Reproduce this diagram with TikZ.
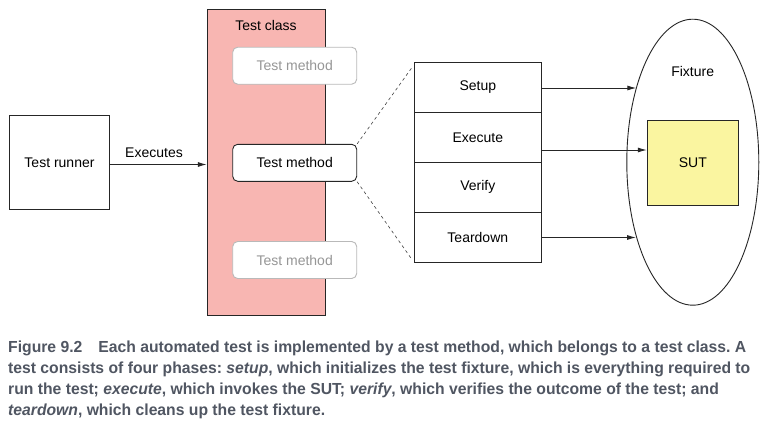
\documentclass[tikz,border=0pt]{standalone}
\usepackage{fontspec}
\setmainfont{Liberation Sans}
\newfontfamily\capfont[FakeStretch=0.982]{Liberation Sans}
\usetikzlibrary{arrows.meta,shapes.geometric,calc}
\definecolor{classpink}{RGB}{248,182,178}
\definecolor{sutyellow}{RGB}{250,245,160}
\definecolor{ghost}{RGB}{185,185,185}
\definecolor{ghosttext}{RGB}{150,150,150}
\definecolor{captext}{RGB}{80,86,98}
\frenchspacing
\tikzset{
  x=1pt, y=-1pt,
  every node/.style={font=\fontsize{14}{16}\selectfont},
  conn/.style={line width=0.9pt, draw=black!85, -{Latex[length=9pt,width=5pt]}},
  phase/.style={draw=black!85, line width=0.9pt, rectangle, minimum width=127pt, minimum height=50pt, inner sep=0pt},
  method/.style={draw=black!85, line width=0.9pt, rounded corners=5pt, minimum width=124pt, minimum height=37pt, inner sep=0pt, fill=white},
  ghostmethod/.style={method, draw=ghost, text=ghosttext},
  zoomline/.style={dashed, line width=0.6pt, draw=black!75},
  capline/.style={anchor=base west, inner sep=0pt, font=\capfont\bfseries\fontsize{16}{18}\selectfont, text=captext},
}
\begin{document}
\begin{tikzpicture}
\path[use as bounding box, fill=white] (0,0) rectangle (769,423);

% test runner
\node[draw=black!85, line width=0.9pt, minimum width=100pt, minimum height=94pt, inner sep=0pt] (runner) at (59.5,162.8) {Test runner};

% test class
\node[draw=black!85, line width=0.9pt, fill=classpink, minimum width=118pt, minimum height=305.6pt, inner sep=0pt] (class) at (266.2,162.5) {};
\node (classlbl) at (266,25) {Test class};

\node[ghostmethod] (tm1) at (294.7,65.7) {Test method};
\node[method] (tm) at (294.7,162.8) {Test method};
\node[ghostmethod] (tm3) at (294.7,260) {Test method};

% executes arrow
\coordinate (ea) at (runner.east |- 0,164.5);
\draw[conn] (ea) -- (class.west |- ea);
\node (execlbl) at (154,153) {Executes};

% phases
\node[phase] (setup) at (477.8,87.3) {Setup};
\node[phase] (execute) at (477.8,137.3) {Execute};
\node[phase] (verify) at (477.8,187.3) {Verify};
\node[phase] (teardown) at (477.8,237.2) {Teardown};

% dashed zoom lines
\coordinate (dz1) at ($(setup.north west)+(-2.5,6.5)$);
\coordinate (dz2) at ($(teardown.south west)+(-2.5,-4)$);
\draw[zoomline] (tm.north east) -- (dz1);
\draw[zoomline] (tm.south east) -- (dz2);

% fixture
\node[draw=black!85, line width=0.9pt, ellipse, minimum width=132pt, minimum height=286pt, inner sep=0pt] (fix) at (692.8,162.2) {};
\node (fixlbl) at (692.7,71) {Fixture};
\node[draw=black!85, line width=0.9pt, fill=sutyellow, minimum width=91pt, minimum height=85pt, inner sep=0pt] (sut) at (692.8,162.5) {SUT};

\coordinate (fs) at (636.3,88);
\coordinate (ft) at (636.0,237.5);
\draw[conn] (setup.east |- fs) -- (fs);
\draw[conn] (teardown.east |- ft) -- (ft);
\coordinate (xs) at ($(execute.east)+(0,12.7)$);
\draw[conn] (xs) -- (sut.west |- xs);

% caption
\node[capline] (c1) at (8,352) {Figure 9.2\hspace{16pt}Each automated test is implemented by a test method, which belongs to a test class. A};
\node[capline] (c2) at (8,373) {test consists of four phases: \textit{setup}, which initializes the test fixture, which is everything required to};
\node[capline] (c3) at (8,394) {run the test; \textit{execute}, which invokes the SUT; \textit{verify}, which verifies the outcome of the test; and};
\node[capline] (c4) at (8,415) {\textit{teardown}, which cleans up the test fixture.};
\end{tikzpicture}
\end{document}
